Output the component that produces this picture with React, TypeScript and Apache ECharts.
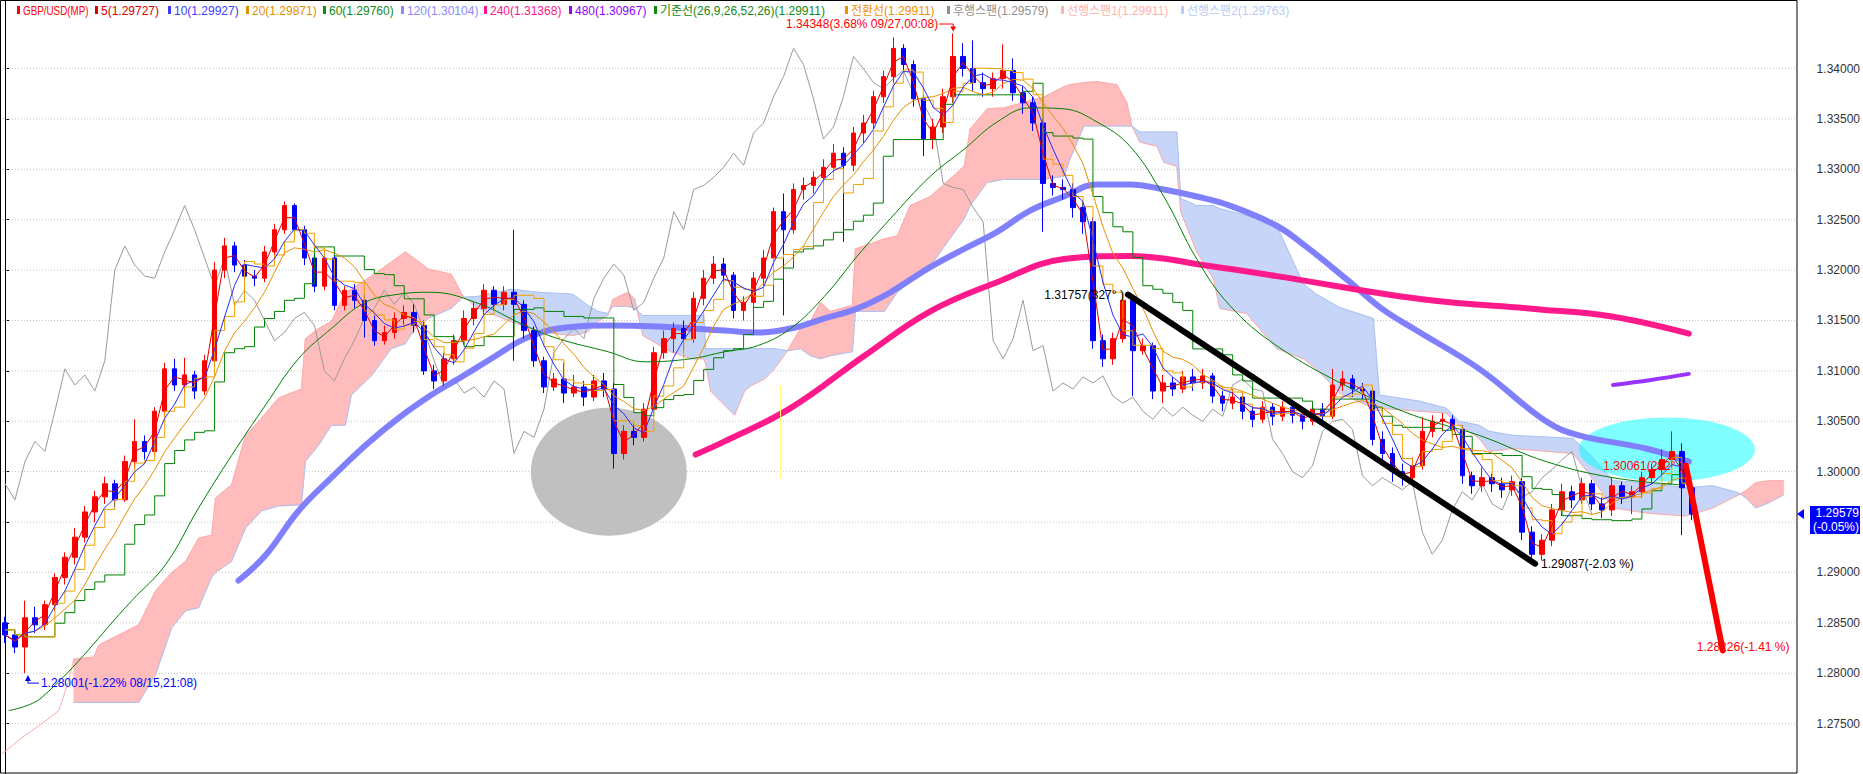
import React, { useEffect, useRef } from "react";
import * as echarts from "echarts";

const SLOT_COUNT = 180;

// [open, close, low, high]
const candles: number[][] = [
  [1.2850, 1.2838, 1.2830, 1.2856], [1.2838, 1.2826, 1.2820, 1.2842], [1.2826, 1.2855, 1.28001, 1.2872], [1.2855, 1.2848, 1.2840, 1.2866], [1.2848, 1.2868, 1.2843, 1.2872],
  [1.2868, 1.2895, 1.2862, 1.2899], [1.2895, 1.2915, 1.2888, 1.2920], [1.2915, 1.2935, 1.2908, 1.2944], [1.2935, 1.2960, 1.2930, 1.2966], [1.2960, 1.2975, 1.2950, 1.2981],
  [1.2975, 1.2988, 1.2968, 1.2995], [1.2988, 1.2972, 1.2965, 1.2992], [1.2972, 1.3010, 1.2970, 1.3016], [1.3010, 1.3030, 1.3004, 1.3052], [1.3030, 1.3020, 1.3012, 1.3036],
  [1.3020, 1.3060, 1.3016, 1.3064], [1.3060, 1.3102, 1.3055, 1.3108], [1.3102, 1.3086, 1.3080, 1.3112], [1.3086, 1.3096, 1.3078, 1.3113], [1.3096, 1.3080, 1.3072, 1.3100],
  [1.3080, 1.3110, 1.3076, 1.3116], [1.3110, 1.3200, 1.3105, 1.3208], [1.3200, 1.3224, 1.3192, 1.3232], [1.3224, 1.3205, 1.3198, 1.3228], [1.3205, 1.3194, 1.3185, 1.3210],
  [1.3194, 1.3192, 1.3184, 1.3200], [1.3192, 1.3218, 1.3188, 1.3224], [1.3218, 1.3240, 1.3212, 1.3246], [1.3240, 1.3264, 1.3236, 1.3268], [1.3264, 1.3240, 1.3234, 1.3266],
  [1.3240, 1.3212, 1.3205, 1.3244], [1.3212, 1.3184, 1.3178, 1.3216], [1.3184, 1.3212, 1.3180, 1.3218], [1.3212, 1.3165, 1.3160, 1.3215], [1.3165, 1.3180, 1.3160, 1.3184],
  [1.3180, 1.3170, 1.3162, 1.3186], [1.3170, 1.3150, 1.3133, 1.3176], [1.3150, 1.3130, 1.3125, 1.3155], [1.3130, 1.3138, 1.3126, 1.3145], [1.3138, 1.3152, 1.3132, 1.3158],
  [1.3152, 1.3158, 1.3146, 1.3165], [1.3158, 1.3145, 1.3138, 1.3166], [1.3145, 1.3100, 1.3096, 1.3150], [1.3100, 1.3090, 1.3082, 1.3106], [1.3090, 1.3112, 1.3085, 1.3118],
  [1.3112, 1.3130, 1.3106, 1.3136], [1.3130, 1.3152, 1.3126, 1.3160], [1.3152, 1.3162, 1.3145, 1.3168], [1.3162, 1.3180, 1.3156, 1.3186], [1.3180, 1.3166, 1.3160, 1.3184],
  [1.3166, 1.3178, 1.3160, 1.3184], [1.3178, 1.3166, 1.3110, 1.3240], [1.3166, 1.3140, 1.3132, 1.3170], [1.3140, 1.3110, 1.3104, 1.3144], [1.3110, 1.3084, 1.3078, 1.3114],
  [1.3084, 1.3092, 1.3080, 1.3098], [1.3092, 1.3078, 1.3068, 1.3108], [1.3078, 1.3084, 1.3074, 1.3096], [1.3084, 1.3074, 1.3065, 1.3090], [1.3074, 1.3090, 1.3070, 1.3096],
  [1.3090, 1.3082, 1.3074, 1.3098], [1.3082, 1.3018, 1.3003, 1.3088], [1.3018, 1.3040, 1.3012, 1.3046], [1.3040, 1.3034, 1.3026, 1.3048], [1.3034, 1.3062, 1.3030, 1.3068],
  [1.3062, 1.3118, 1.3058, 1.3124], [1.3118, 1.3132, 1.3112, 1.3140], [1.3132, 1.3142, 1.3118, 1.3148], [1.3142, 1.3132, 1.3120, 1.3150], [1.3132, 1.3172, 1.3128, 1.3178],
  [1.3172, 1.3192, 1.3165, 1.3200], [1.3192, 1.3206, 1.3186, 1.3214], [1.3206, 1.3195, 1.3186, 1.3212], [1.3195, 1.3160, 1.3152, 1.3198], [1.3160, 1.3168, 1.3150, 1.3174],
  [1.3168, 1.3192, 1.3162, 1.3198], [1.3192, 1.3212, 1.3185, 1.3220], [1.3212, 1.3258, 1.3206, 1.3262], [1.3258, 1.3240, 1.3155, 1.3276], [1.3240, 1.3280, 1.3236, 1.3286],
  [1.3280, 1.3284, 1.3270, 1.3292], [1.3284, 1.3292, 1.3276, 1.3298], [1.3292, 1.3302, 1.3285, 1.3310], [1.3302, 1.3316, 1.3296, 1.3325], [1.3316, 1.3304, 1.3228, 1.3322],
  [1.3304, 1.3336, 1.3298, 1.3342], [1.3336, 1.3346, 1.3326, 1.3354], [1.3346, 1.3372, 1.3340, 1.3378], [1.3372, 1.3392, 1.3366, 1.3398], [1.3392, 1.3420, 1.3386, 1.3431],
  [1.3420, 1.3404, 1.3396, 1.3424], [1.3404, 1.3370, 1.3362, 1.3408], [1.3370, 1.3330, 1.3313, 1.3374], [1.3330, 1.3342, 1.3320, 1.3350], [1.3342, 1.3372, 1.3336, 1.3380],
  [1.3372, 1.3412, 1.3366, 1.34348], [1.3412, 1.3400, 1.3392, 1.3425], [1.3400, 1.3386, 1.3378, 1.3428], [1.3386, 1.3380, 1.3372, 1.3396], [1.3380, 1.3390, 1.3372, 1.3396],
  [1.3390, 1.3398, 1.3380, 1.3424], [1.3398, 1.3376, 1.3368, 1.3410], [1.3376, 1.3366, 1.3355, 1.3382], [1.3366, 1.3346, 1.3338, 1.3372], [1.3346, 1.3286, 1.3238, 1.3350],
  [1.3286, 1.3282, 1.3274, 1.3294], [1.3282, 1.3280, 1.3270, 1.3290], [1.3280, 1.3262, 1.3252, 1.3286], [1.3262, 1.3248, 1.3236, 1.3268], [1.3248, 1.3130, 1.3122, 1.3252],
  [1.3130, 1.3112, 1.3104, 1.3136], [1.3112, 1.3132, 1.3106, 1.3138], [1.3132, 1.3170, 1.3128, 1.31757], [1.3170, 1.3120, 1.3075, 1.3172], [1.3120, 1.3125, 1.3116, 1.3132],
  [1.3125, 1.3080, 1.3072, 1.3128], [1.3080, 1.3088, 1.3068, 1.3096], [1.3088, 1.3082, 1.3075, 1.3094], [1.3082, 1.3094, 1.3078, 1.3100], [1.3094, 1.3088, 1.3080, 1.3102],
  [1.3088, 1.3095, 1.3082, 1.3102], [1.3095, 1.3075, 1.3068, 1.3098], [1.3075, 1.3068, 1.3060, 1.3080], [1.3068, 1.3074, 1.3062, 1.3082], [1.3074, 1.3060, 1.3052, 1.3078],
  [1.3060, 1.3052, 1.3044, 1.3066], [1.3052, 1.3064, 1.3048, 1.3070], [1.3064, 1.3055, 1.3046, 1.3068], [1.3055, 1.3064, 1.3050, 1.3070], [1.3064, 1.3056, 1.3048, 1.3068],
  [1.3056, 1.3050, 1.3042, 1.3062], [1.3050, 1.3062, 1.3046, 1.3068], [1.3062, 1.3055, 1.3048, 1.3068], [1.3055, 1.3086, 1.3052, 1.3102], [1.3086, 1.3092, 1.3080, 1.3100],
  [1.3092, 1.3082, 1.3074, 1.3096], [1.3082, 1.3080, 1.3072, 1.3088], [1.3080, 1.3032, 1.3026, 1.3084], [1.3032, 1.3018, 1.3008, 1.3040], [1.3018, 1.3000, 1.2990, 1.3024],
  [1.3000, 1.2994, 1.2986, 1.3008], [1.2994, 1.3006, 1.2988, 1.3014], [1.3006, 1.3040, 1.3002, 1.3054], [1.3040, 1.3050, 1.3034, 1.3056], [1.3050, 1.3052, 1.3040, 1.3058],
  [1.3052, 1.3042, 1.3034, 1.3056], [1.3042, 1.2996, 1.2988, 1.3046], [1.2996, 1.2986, 1.2978, 1.3000], [1.2986, 1.2994, 1.2980, 1.3004], [1.2994, 1.2988, 1.2980, 1.2998],
  [1.2988, 1.2982, 1.2974, 1.2994], [1.2982, 1.2990, 1.2976, 1.2996], [1.2990, 1.2940, 1.2932, 1.2994], [1.2940, 1.2918, 1.29087, 1.2946], [1.2918, 1.2932, 1.2912, 1.2938],
  [1.2932, 1.2962, 1.2926, 1.2968], [1.2962, 1.2980, 1.2956, 1.2988], [1.2980, 1.2972, 1.2964, 1.2986], [1.2972, 1.2988, 1.2968, 1.2994], [1.2988, 1.2968, 1.2962, 1.2992],
  [1.2968, 1.2962, 1.2954, 1.2974], [1.2962, 1.2986, 1.2956, 1.2994], [1.2986, 1.2975, 1.2968, 1.2990], [1.2975, 1.2980, 1.2958, 1.2986], [1.2980, 1.2994, 1.2974, 1.3000],
  [1.2994, 1.3002, 1.2988, 1.3008], [1.3002, 1.3012, 1.2996, 1.3022], [1.3012, 1.3020, 1.3004, 1.3040], [1.3020, 1.2984, 1.2937, 1.3028], [1.2984, 1.29579, 1.2952, 1.2990],
];

// Ichimoku cloud: [time index, 선행스팬1, 선행스팬2]
const cloud: number[][] = [
  [6.9, 1.2814, 1.2771], [8.9, 1.2816, 1.2771], [9.4, 1.2828, 1.2771], [13.4, 1.2848, 1.2771], [15.1, 1.2882, 1.2799],
  [16.7, 1.2900, 1.2845], [18.1, 1.2911, 1.2862], [19.4, 1.2934, 1.2865], [20.7, 1.2937, 1.2895], [21.1, 1.2974, 1.2900],
  [22.7, 1.2987, 1.2911], [24.1, 1.3036, 1.2944], [25.7, 1.3053, 1.2961], [27.4, 1.3073, 1.2966], [29.7, 1.3082, 1.2967],
  [30.1, 1.3132, 1.3010], [31.4, 1.3142, 1.3026], [32.7, 1.3149, 1.3046], [34.1, 1.3178, 1.3046], [34.7, 1.3181, 1.3076],
  [36.7, 1.3194, 1.3095], [38.7, 1.3208, 1.3122], [40.1, 1.3218, 1.3127], [41.1, 1.3211, 1.3142], [42.4, 1.3201, 1.3152],
  [44.7, 1.3196, 1.3162], [45.9, 1.3174, 1.3173], [47.4, 1.3162, 1.3174], [50.7, 1.3149, 1.3181], [53.4, 1.3139, 1.3178],
  [56.9, 1.3135, 1.3176], [58.4, 1.3139, 1.3165], [59.4, 1.3149, 1.3159], [60.4, 1.3155, 1.3157], [60.9, 1.3171, 1.3164],
  [62.4, 1.3178, 1.3164], [63.1, 1.3171, 1.3162], [63.9, 1.3135, 1.3155], [66.7, 1.3119, 1.3155], [68.7, 1.3112, 1.3155],
  [70.0, 1.3112, 1.3155], [70.2, 1.3107, 1.3122], [70.7, 1.3080, 1.3122], [72.1, 1.3066, 1.3122], [73.1, 1.3056, 1.3122],
  [74.1, 1.3080, 1.3122], [74.7, 1.3085, 1.3122], [76.1, 1.3092, 1.3122], [77.1, 1.3102, 1.3122], [78.4, 1.3120, 1.3120],
  [79.7, 1.3142, 1.3122], [80.7, 1.3149, 1.3115], [81.7, 1.3168, 1.3112], [82.7, 1.3159, 1.3115], [84.9, 1.3165, 1.3119],
  [85.2, 1.3221, 1.3159], [88.1, 1.3231, 1.3159], [89.4, 1.3234, 1.3178], [90.7, 1.3264, 1.3188], [92.7, 1.3273, 1.3204],
  [96.1, 1.3303, 1.3251], [96.7, 1.3340, 1.3264], [98.4, 1.3360, 1.3287], [100.1, 1.3361, 1.3290], [104.1, 1.3372, 1.3290],
  [106.1, 1.3382, 1.3293], [106.7, 1.3384, 1.3310], [108.1, 1.3386, 1.3343], [109.4, 1.3387, 1.3343], [111.4, 1.3384, 1.3343],
  [112.4, 1.3366, 1.3343], [112.9, 1.3343, 1.3343], [113.7, 1.3327, 1.3337], [115.4, 1.3323, 1.3337], [116.1, 1.3307, 1.3337],
  [117.4, 1.3303, 1.3337], [117.8, 1.3258, 1.3271], [119.4, 1.3218, 1.3264], [121.1, 1.3191, 1.3264], [121.7, 1.3162, 1.3261],
  [124.4, 1.3157, 1.3254], [127.4, 1.3122, 1.3244], [130.1, 1.3112, 1.3186], [131.4, 1.3102, 1.3176], [133.7, 1.3078, 1.3163],
  [137.1, 1.3063, 1.3152], [137.7, 1.3063, 1.3076], [141.7, 1.3060, 1.3070], [144.4, 1.3058, 1.3063], [145.7, 1.3046, 1.3050],
  [147.7, 1.3033, 1.3046], [148.7, 1.3020, 1.3040], [151.1, 1.3023, 1.3036], [157.1, 1.3018, 1.3033], [158.9, 1.2995, 1.3016],
  [161.1, 1.2964, 1.2991], [164.4, 1.2959, 1.2989], [168.4, 1.2956, 1.2984], [171.1, 1.2964, 1.2986], [173.7, 1.2977, 1.2979],
  [174.4, 1.2981, 1.2974], [175.4, 1.2989, 1.2964], [176.7, 1.2991, 1.2969], [178.2, 1.2991, 1.2977],
];

// 선행스팬1 before the cloud starts
const span1Lead: number[][] = [[-0.3, 1.2720], [1.7, 1.2736], [4.1, 1.2753], [5.4, 1.2763], [6.4, 1.2793]];

const ma60Line: number[][] = [
  [0.4, 1.2763], [3.7, 1.2776], [12.7, 1.2872], [16.1, 1.2908], [19.4, 1.2964], [22.7, 1.3016], [26.1, 1.3066],
  [29.4, 1.3112], [32.7, 1.3142], [36.1, 1.3168], [39.4, 1.3176], [42.7, 1.3178], [47.4, 1.3167], [52.1, 1.3145],
  [55.4, 1.3132], [60.4, 1.3119], [64.1, 1.3109], [68.7, 1.3112], [72.1, 1.3119], [75.4, 1.3125], [78.7, 1.3142],
  [82.1, 1.3174], [85.4, 1.3214], [88.7, 1.3251], [92.7, 1.3293], [96.1, 1.3320], [99.4, 1.3347], [102.7, 1.3361],
  [106.1, 1.3360], [109.4, 1.3347], [112.7, 1.3323], [116.1, 1.3273], [119.4, 1.3211], [122.7, 1.3165], [127.4, 1.3125],
  [134.4, 1.3085], [141.1, 1.3056], [147.7, 1.3036], [154.4, 1.3010], [161.1, 1.2994], [167.7, 1.2987],
];

const ma120Line: number[][] = [
  [23.4, 1.2892], [26.1, 1.2917], [29.4, 1.2961], [32.7, 1.2994], [36.1, 1.3026], [39.4, 1.3053], [42.7, 1.3076],
  [45.4, 1.3092], [48.7, 1.3112], [52.1, 1.3132], [55.4, 1.3142], [60.4, 1.3145], [65.4, 1.3144], [72.1, 1.3140],
  [75.4, 1.3138], [78.7, 1.3142], [82.1, 1.3152], [85.4, 1.3162], [88.7, 1.3178], [92.7, 1.3203], [96.1, 1.3221],
  [99.4, 1.3238], [102.7, 1.3259], [106.1, 1.3273], [109.4, 1.3285], [112.7, 1.3285], [116.1, 1.3280], [119.4, 1.3273],
  [122.7, 1.3264], [127.4, 1.3244], [130.4, 1.3223], [134.4, 1.3191], [137.9, 1.3162], [141.1, 1.3142], [147.7, 1.3102],
  [154.4, 1.3050], [157.7, 1.3036], [164.4, 1.3023], [168.7, 1.3010],
];

const ma240Line: number[][] = [
  [69.2, 1.3017], [72.1, 1.3030], [78.7, 1.3063], [86.1, 1.3115], [92.7, 1.3159], [99.4, 1.3188], [106.1, 1.3211],
  [112.7, 1.3214], [120.7, 1.3204], [127.4, 1.3194], [142.0, 1.3171], [153.8, 1.3161], [161.0, 1.3154], [168.7, 1.3137],
];

const ma480Line: number[][] = [[161.1, 1.3086], [164.9, 1.3091], [168.7, 1.3097]];

const trendDown: number[][] = [[112.5, 1.31757], [153.3, 1.29087]];
const projection: number[][] = [[168.4, 1.30061], [172.1, 1.28226]];
const yellowMark: number[][] = [[77.7, 1.3085], [77.7, 1.2994]];

// price axis ticks; the 1.29500 label sits behind the current-price tag, as in the source
const priceTicks = [1.275, 1.28, 1.285, 1.29, 1.295, 1.3, 1.305, 1.31, 1.315, 1.32, 1.325, 1.33, 1.335, 1.34];
const priceLabels = [1.275, 1.28, 1.285, 1.29, 1.3, 1.305, 1.31, 1.315, 1.32, 1.325, 1.33, 1.335, 1.34];

const legendItems = [
  { label: "GBP/USD(MP)", color: "#ff0000", x: 23, sx: 0.82 },
  { label: "5(1.29727)", color: "#e00000", x: 101, sx: 1 },
  { label: "10(1.29927)", color: "#3c3cff", x: 174, sx: 1 },
  { label: "20(1.29871)", color: "#e39000", x: 252, sx: 1 },
  { label: "60(1.29760)", color: "#138a13", x: 329, sx: 1 },
  { label: "120(1.30104)", color: "#8a8aff", x: 407, sx: 1 },
  { label: "240(1.31368)", color: "#ff1493", x: 490, sx: 1 },
  { label: "480(1.30967)", color: "#9000ff", x: 575, sx: 1 },
  { label: "기준선(26,9,26,52,26)(1.29911)", color: "#138a13", x: 660, sx: 1 },
  { label: "전환선(1.29911)", color: "#f09000", x: 851, sx: 1 },
  { label: "후행스팬(1.29579)", color: "#909090", x: 953, sx: 1 },
  { label: "선행스팬1(1.29911)", color: "#ffb2b2", x: 1067, sx: 1 },
  { label: "선행스팬2(1.29763)", color: "#b6cbf5", x: 1187, sx: 1 },
];

const FONT = "12px 'Liberation Sans', 'Noto Sans CJK KR', sans-serif";

const closes = candles.map((c) => c[1]);
const sma = (p: number) =>
  closes.map((_, i) => {
    const s = Math.max(0, i - p + 1);
    let sum = 0;
    for (let k = s; k <= i; k++) sum += closes[k];
    return +(sum / (i - s + 1)).toFixed(5);
  });
const midHL = (p: number) =>
  candles.map((_, i) => {
    const s = Math.max(0, i - p + 1);
    let hi = -Infinity, lo = Infinity;
    for (let k = s; k <= i; k++) { hi = Math.max(hi, candles[k][3]); lo = Math.min(lo, candles[k][2]); }
    return +((hi + lo) / 2).toFixed(5);
  });
const LAG = 10;
const lagging = closes.slice(LAG);

function txt(x: number, y: number, text: string, fill: string, align = "left", z = 30, sx = 1, extra: any = {}) {
  return {
    type: "text", x, y, z, silent: true, scaleX: sx,
    style: { text, fill, font: FONT, align, verticalAlign: "middle", textAlign: align, textVerticalAlign: "middle", ...extra },
  };
}

export default function App() {
  const ref = useRef<HTMLDivElement>(null);
  useEffect(() => {
    document.body.style.margin = "0";
    const chart = echarts.init(ref.current!, null, { renderer: "svg" });
    const slots = Array.from({ length: SLOT_COUNT }, (_, i) => String(i));
    const thin = (name: string, data: any[], color: string, extra: any = {}) => ({
      name, type: "line", data, xAxisIndex: 0, yAxisIndex: 0, symbol: "none", silent: true, z: 4,
      lineStyle: { color, width: 1 }, ...extra,
    });
    const over = (name: string, data: number[][], color: string, width: number, z: number, smooth: any = 0.4) => ({
      name, type: "line", data, xAxisIndex: 1, yAxisIndex: 0, symbol: "none", silent: true, z, smooth,
      lineStyle: { color, width, cap: "round" },
    });
    chart.setOption({
      animation: false,
      grid: { left: 0, right: 66, top: 0, bottom: -3 },
      xAxis: [
        { type: "category", data: slots, boundaryGap: true, show: false },
        { type: "value", min: -0.5, max: SLOT_COUNT - 0.5, show: false },
      ],
      yAxis: {
        type: "value", position: "right", min: 1.27, max: 1.3468,
        axisLine: { show: true, lineStyle: { color: "#000", width: 1 } },
        axisTick: { show: true, length: 4, lineStyle: { color: "#000" }, customValues: priceTicks },
        axisLabel: {
          margin: 20, color: "#333", fontSize: 12, fontFamily: "'Liberation Sans', sans-serif",
          customValues: priceLabels,
          formatter: (v: number) => v.toFixed(5),
        },
        splitLine: { show: false },
      },
      series: [
        {
          name: "grid", type: "custom", xAxisIndex: 1, yAxisIndex: 0, z: 0.5, silent: true,
          data: priceTicks.map((v) => [0, v]), encode: { x: 0, y: 1 },
          renderItem: (params: any, api: any) => {
            const v = api.value(1);
            const a = api.coord([-0.5, v]);
            const b = api.coord([SLOT_COUNT - 0.5, v]);
            return { type: "line", shape: { x1: a[0], y1: a[1], x2: b[0], y2: b[1] }, style: { stroke: "#c4c4c4", lineWidth: 1, lineDash: [1, 2] } };
          },
        },
        {
          name: "cloud", type: "custom", xAxisIndex: 1, yAxisIndex: 0, z: 1, silent: true,
          data: cloud, encode: { x: 0, y: [1, 2] },
          renderItem: (params: any, api: any) => {
            const i = params.dataIndex;
            if (i >= cloud.length - 1) return null;
            const a = cloud[i], b = cloud[i + 1];
            const pts = [api.coord([a[0], a[1]]), api.coord([b[0], b[1]]), api.coord([b[0], b[2]]), api.coord([a[0], a[2]])];
            const c = a[1] + b[1] >= a[2] + b[2] ? "#ffbcbc" : "#c6d5f8";
            return { type: "polygon", shape: { points: pts }, style: { fill: c, stroke: c, lineWidth: 0.8 } };
          },
        },
        over("선행스팬1", [...span1Lead, ...cloud.map((r) => [r[0], r[1]])], "#ffaaaa", 1, 1.2, false),
        over("선행스팬2", cloud.map((r) => [r[0], r[2]]), "#aac2f2", 1, 1.2, false),
        thin("후행스팬", lagging, "#9a9a9a", { z: 2 }),
        over("120", ma120Line, "#8080ff", 6, 2.5),
        over("240", ma240Line, "#ff1a8c", 6, 2.5),
        over("480", ma480Line, "#9933ff", 4, 2.5),
        over("60", ma60Line, "#008000", 1, 4),
        {
          name: "GBP/USD", type: "candlestick", data: candles, xAxisIndex: 0, yAxisIndex: 0, z: 3, silent: true,
          barWidth: 5,
          itemStyle: { color: "#ff0000", color0: "#0000ff", borderColor: "#ff0000", borderColor0: "#0000ff", borderWidth: 1 },
        },
        thin("기준선", midHL(10), "#008000", { step: "end" }),
        thin("전환선", midHL(3), "#f0a000", { step: "end" }),
        thin("20", sma(8), "#e89000"),
        thin("10", sma(4), "#2a2aff"),
        thin("5", sma(2), "#e00000"),
        over("trend", trendDown, "#000000", 6, 6, false),
        over("mark", yellowMark, "#ffff70", 1, 6, false),
        over("projection", projection, "#ff0000", 6, 40, false),
      ],
    });

    const px = (x: number, y: number) => chart.convertToPixel({ xAxisIndex: 1, yAxisIndex: 0 }, [x, y]) as number[];
    const g: any[] = [];
    // frame
    g.push({ type: "rect", z: 20, silent: true, shape: { x: 0.5, y: 0.5, width: 1796.5, height: 772.5 }, style: { fill: "none", stroke: "#000", lineWidth: 1 } });
    // legend
    legendItems.forEach((it) => {
      g.push({ type: "rect", z: 30, silent: true, shape: { x: it.x - 6, y: 6, width: 3, height: 8 }, style: { fill: it.color } });
      g.push(txt(it.x, 10.5, it.label, it.color, "left", 30, it.sx));
    });
    // drawn ellipses
    const ge = px(60.5, 1.3);
    g.push({ type: "ellipse", z: 1.5, silent: true, shape: { cx: ge[0], cy: ge[1], rx: 78, ry: 64 }, style: { fill: "#c0c0c0" } });
    const ce = px(166.5, 1.3022);
    g.push({ type: "ellipse", z: 1.5, silent: true, shape: { cx: ce[0], cy: ce[1], rx: 88, ry: 32 }, style: { fill: "rgba(0,255,255,0.5)" } });
    // high marker
    const hp = px(95, 1.34348);
    g.push(txt(hp[0] - 15, 24, "1.34348(3.68% 09/27,00:08)", "#ff0000", "right"));
    g.push({ type: "polyline", z: 30, silent: true, shape: { points: [[hp[0] - 14, 24], [hp[0], 24], [hp[0], hp[1] - 4]] }, style: { stroke: "#ff0000", lineWidth: 1, fill: "none" } });
    g.push({ type: "polygon", z: 30, silent: true, shape: { points: [[hp[0] - 3, hp[1] - 7], [hp[0] + 3, hp[1] - 7], [hp[0], hp[1] - 2]] }, style: { fill: "#ff0000" } });
    // low marker
    const lp = px(2.3, 1.28001);
    g.push({ type: "polygon", z: 30, silent: true, shape: { points: [[lp[0] - 3, lp[1] + 8], [lp[0] + 3, lp[1] + 8], [lp[0], lp[1] + 2]] }, style: { fill: "#0000ff" } });
    g.push({ type: "polyline", z: 30, silent: true, shape: { points: [[lp[0], lp[1] + 4], [lp[0], lp[1] + 10], [lp[0] + 11, lp[1] + 10]] }, style: { stroke: "#0000ff", lineWidth: 1, fill: "none" } });
    g.push(txt(lp[0] + 13, lp[1] + 10, "1.28001(-1.22% 08/15,21:08)", "#0000ff"));
    // trend labels
    const t1 = px(trendDown[0][0], trendDown[0][1]);
    g.push(txt(t1[0] - 4, t1[1], "1.31757(327° )", "#000000", "right"));
    const t2 = px(trendDown[1][0], trendDown[1][1]);
    g.push(txt(t2[0] + 6, t2[1], "1.29087(-2.03 %)", "#000000"));
    const r1 = px(projection[0][0], projection[0][1]);
    g.push(txt(r1[0] - 3, r1[1], "1.30061(282° )", "#ff0000", "right"));
    const r2 = px(projection[1][0], projection[1][1]);
    g.push(txt(r2[0] - 26, r2[1] - 3, "1.28226(-1.41 %)", "#ff0000"));
    // current price tag
    const cp = px(0, 1.29579);
    g.push({ type: "polygon", z: 30, silent: true, shape: { points: [[1797, cp[1]], [1804, cp[1] - 5], [1804, cp[1] + 5]] }, style: { fill: "#0000ff" } });
    g.push({ type: "rect", z: 30, silent: true, shape: { x: 1810, y: cp[1] - 8, width: 50, height: 28 }, style: { fill: "#0000ff" } });
    g.push(txt(1859, cp[1] + 6, "1.29579\n(-0.05%)", "#ffffff", "right", 31, 1, { lineHeight: 14 }));

    chart.setOption({ graphic: { elements: g } });
    return () => chart.dispose();
  }, []);
  return <div ref={ref} style={{ width: 1863, height: 774 }} />;
}
